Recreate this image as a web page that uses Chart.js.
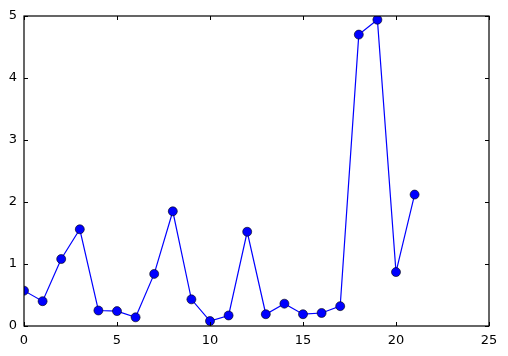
<!DOCTYPE html>
<html>
<head>
<meta charset="utf-8">
<script src="https://cdn.jsdelivr.net/npm/chart.js@4/dist/chart.umd.min.js"></script>
<style>
  html, body { margin: 0; padding: 0; background: #fff; }
  #wrap { width: 508px; height: 356px; }
</style>
</head>
<body>
<div id="wrap"><canvas id="chart" width="508" height="356"></canvas></div>
<script>
// values
const xValues = [0, 1, 2, 3, 4, 5, 6, 7, 8, 9, 10, 11, 12, 13, 14, 15, 16, 17, 18, 19, 20, 21];
const yValues = [0.57, 0.40, 1.08, 1.56, 0.25, 0.24, 0.14, 0.84, 1.85, 0.43, 0.08, 0.17,
                 1.52, 0.19, 0.36, 0.19, 0.21, 0.32, 4.70, 4.94, 0.87, 2.12];
const xTicks = [0, 5, 10, 15, 20, 25];
const yTicks = [0, 1, 2, 3, 4, 5];

const FONT = "'DejaVu Sans', sans-serif";

// matplotlib-classic frame: black box with inward ticks on every side
const frameTicks = {
  id: "frameTicks",
  afterDatasetsDraw(chart) {
    const { ctx, chartArea: a, scales } = chart;
    const len = 4;
    ctx.save();
    ctx.strokeStyle = "#000";
    ctx.lineWidth = 1;
    ctx.beginPath();
    xTicks.forEach((v) => {
      const px = Math.round(scales.x.getPixelForValue(v)) + 0.5;
      ctx.moveTo(px, a.bottom); ctx.lineTo(px, a.bottom - len);
      ctx.moveTo(px, a.top); ctx.lineTo(px, a.top + len);
    });
    yTicks.forEach((v) => {
      const py = Math.round(scales.y.getPixelForValue(v)) + 0.5;
      ctx.moveTo(a.left, py); ctx.lineTo(a.left + len, py);
      ctx.moveTo(a.right, py); ctx.lineTo(a.right - len, py);
    });
    ctx.stroke();
    ctx.lineWidth = 1.2;
    ctx.strokeRect(a.left, a.top, a.right - a.left, a.bottom - a.top);
    ctx.restore();
  },
};

new Chart(document.getElementById("chart"), {
  type: "line",
  data: {
    datasets: [
      {
        data: xValues.map((x, i) => ({ x, y: yValues[i] })),
        borderColor: "#0000ff",
        borderWidth: 1.2,
        backgroundColor: "#0000ff",
        pointBackgroundColor: "#0000ff",
        pointBorderColor: "#000",
        pointBorderWidth: 0.6,
        pointRadius: 4.5,
        tension: 0,
      },
    ],
  },
  options: {
    responsive: false,
    animation: false,
    events: [],
    layout: { padding: { top: 16, right: 19, left: 0, bottom: 0 } },
    plugins: { legend: { display: false }, tooltip: { enabled: false } },
    scales: {
      x: {
        type: "linear",
        min: 0,
        max: 25,
        afterFit: (s) => { s.height = 30; },
        afterBuildTicks: (s) => { s.ticks = xTicks.map((v) => ({ value: v })); },
        grid: { display: false, drawTicks: false },
        border: { display: false },
        ticks: { color: "#000", padding: 7, font: { family: FONT, size: 13 } },
      },
      y: {
        type: "linear",
        min: 0,
        max: 5,
        afterFit: (s) => { s.width = 24; },
        afterBuildTicks: (s) => { s.ticks = yTicks.map((v) => ({ value: v })); },
        grid: { display: false, drawTicks: false },
        border: { display: false },
        ticks: { color: "#000", padding: 7, font: { family: FONT, size: 13 } },
      },
    },
  },
  plugins: [frameTicks],
});
</script>
</body>
</html>
